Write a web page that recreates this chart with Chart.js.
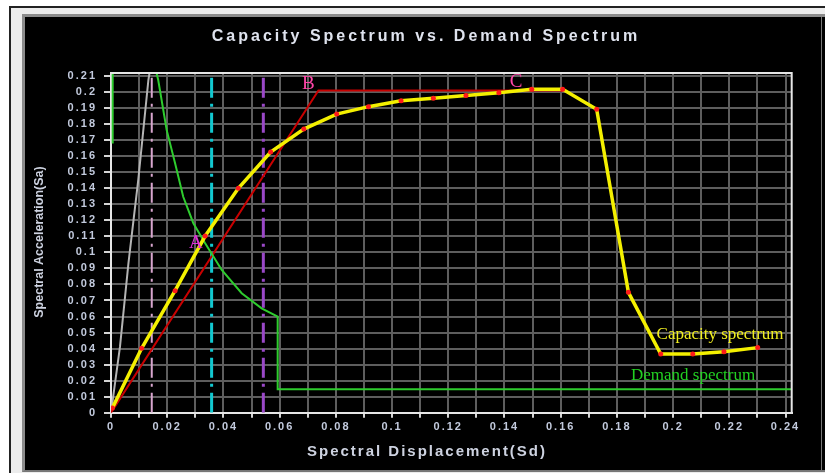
<!DOCTYPE html>
<html>
<head>
<meta charset="utf-8">
<script src="https://cdn.jsdelivr.net/npm/chart.js@4.4.1/dist/chart.umd.min.js"></script>
<style>
body{margin:0;background:#fff;width:825px;height:473px;overflow:hidden;position:relative}
#edge{position:absolute;left:9px;top:6px;width:830px;height:480px;border-left:2px solid #222;border-top:2px solid #222;background:#ececec}
#panel{position:absolute;left:22px;top:14px;width:820px;height:453px;border-left:3px solid #8c8c8c;border-top:3px solid #8c8c8c;border-bottom:2px solid #777;background:#000}
#rline{position:absolute;left:821px;top:17px;width:1px;height:453px;background:#777}
canvas{position:absolute;left:0;top:0}
</style>
</head>
<body>
<div id="edge"></div>
<div id="panel"></div>
<div id="rline"></div>
<canvas id="myChart" width="825" height="473"></canvas>
<script>
// capacity spectrum (yellow, red markers)
const capX = [0.0005, 0.0109, 0.0228, 0.0335, 0.0453, 0.0568, 0.0686, 0.0803, 0.0916, 0.1032, 0.1147, 0.1263, 0.138, 0.1497, 0.1607, 0.1728, 0.1841, 0.1956, 0.207, 0.2181, 0.2301];
const capY = [0.003, 0.0402, 0.0761, 0.1102, 0.14, 0.1626, 0.1769, 0.1863, 0.1909, 0.1946, 0.1961, 0.1978, 0.1996, 0.2017, 0.2017, 0.1893, 0.0751, 0.0366, 0.0366, 0.038, 0.0406];
// bilinear idealisation (red)
const bilinX = [0, 0.0738, 0.1607];
const bilinY = [0, 0.201, 0.201];
// elastic line (grey)
const elasticX = [0, 0.0032, 0.0062, 0.0097, 0.0133, 0.0137];
const elasticY = [0, 0.0412, 0.0932, 0.1452, 0.2075, 0.2119];
// demand spectrum (green)
const demandX = [0.0162, 0.0168, 0.0198, 0.0228, 0.0257, 0.0293, 0.0335, 0.0394, 0.0465, 0.0536, 0.0593, 0.0593, 0.2425];
const demandY = [0.2119, 0.2075, 0.1764, 0.1556, 0.1347, 0.1182, 0.1057, 0.089, 0.0745, 0.0651, 0.0599, 0.0146, 0.0146];
const stubX = [0.0006, 0.0006];
const stubY = [0.168, 0.2119];
// dash-dot guide lines
const guideX = [0.0145, 0.0358, 0.0542];
const guideColors = ['#d9a6cf', '#12c8d0', '#9a48c8'];
const guideWidths = [2, 3, 3];
const guideTop = 0.209;

const xTicks = [0, 0.01, 0.02, 0.03, 0.04, 0.05, 0.06, 0.07, 0.08, 0.09, 0.1, 0.11, 0.12, 0.13, 0.14, 0.15, 0.16, 0.17, 0.18, 0.19, 0.2, 0.21, 0.22, 0.23, 0.24];
const yTicks = [0, 0.01, 0.02, 0.03, 0.04, 0.05, 0.06, 0.07, 0.08, 0.09, 0.1, 0.11, 0.12, 0.13, 0.14, 0.15, 0.16, 0.17, 0.18, 0.19, 0.2, 0.21];

const markNames = ['A', 'B', 'C'];
const markX = [0.0302, 0.0702, 0.1441];
const markY = [0.1059, 0.205, 0.2065];
const curveNames = ['Capacity spectrum', 'Demand spectrum'];
const curveNameX = [0.2167, 0.2071];
const curveNameY = [0.0485, 0.0229];
const curveNameColors = ['#f2f020', '#22d022'];

const pts = (xs, ys) => xs.map((v, i) => ({x: v, y: ys[i]}));
const fmt = v => String(Number(v.toFixed(2)));

const datasets = [
  {data: pts(capX, capY), borderColor: '#f4f000', borderWidth: 3.5, pointRadius: 2.5, pointBackgroundColor: '#ff1a1a', pointBorderWidth: 0, order: 0},
  {data: pts(bilinX, bilinY), borderColor: '#c80000', borderWidth: 2, pointRadius: 0, order: 2},
  {data: pts(elasticX, elasticY), borderColor: '#b4b4b4', borderWidth: 2, pointRadius: 0, order: 3},
  {data: pts(demandX, demandY), borderColor: '#2ecc2e', borderWidth: 2, pointRadius: 0, order: 1},
  {data: pts(stubX, stubY), borderColor: '#2ecc2e', borderWidth: 2, pointRadius: 0, order: 1},
];
guideX.forEach((gx, i) => {
  datasets.push({data: pts([gx, gx], [0, guideTop]), borderColor: guideColors[i], borderWidth: guideWidths[i],
    borderDash: [20, 6, 3, 6], pointRadius: 0, order: 4});
});

const plotFrame = {
  id: 'plotFrame',
  beforeDraw(chart) { chart.ctx.letterSpacing = '2px'; },
  afterDatasetsDraw(chart) {
    const {ctx, chartArea: a} = chart;
    ctx.save();
    ctx.strokeStyle = '#e6e6e6';
    ctx.lineWidth = 2;
    ctx.beginPath();
    ctx.moveTo(a.left, a.top);
    ctx.lineTo(a.right, a.top);
    ctx.lineTo(a.right, a.bottom);
    ctx.stroke();
    ctx.restore();
  }
};

const texts = {
  id: 'texts',
  afterDraw(chart) {
    const {ctx, scales: {x, y}} = chart;
    ctx.save();
    ctx.textAlign = 'center';
    ctx.textBaseline = 'middle';
    ctx.fillStyle = '#dfe3ee';
    ctx.letterSpacing = '3px';
    ctx.font = 'bold 16px "Liberation Sans"';
    ctx.fillText('Capacity Spectrum vs. Demand Spectrum', 426, 37);
    ctx.fillStyle = '#cdd2e0';
    ctx.letterSpacing = '2px';
    ctx.font = 'bold 15px "Liberation Sans"';
    ctx.fillText('Spectral Displacement(Sd)', 427, 452);
    ctx.letterSpacing = '0px';
    ctx.font = 'bold 12.5px "Liberation Sans"';
    ctx.save();
    ctx.translate(40, 242);
    ctx.rotate(-Math.PI / 2);
    ctx.fillText('Spectral Acceleration(Sa)', 0, 0);
    ctx.restore();
    ctx.font = '19px "Liberation Serif"';
    markNames.forEach((t, i) => {
      ctx.fillStyle = i === 0 ? '#e030d8' : '#ff45a8';
      ctx.fillText(t, x.getPixelForValue(markX[i]), y.getPixelForValue(markY[i]));
    });
    ctx.font = '17px "Liberation Serif"';
    curveNames.forEach((t, i) => {
      ctx.fillStyle = curveNameColors[i];
      ctx.fillText(t, x.getPixelForValue(curveNameX[i]), y.getPixelForValue(curveNameY[i]));
    });
    ctx.restore();
  }
};

const tickFont = {family: 'Liberation Sans', weight: 'bold', size: 11};

const config = {
  type: 'scatter',
  data: {datasets: datasets},
  options: {
    responsive: false,
    devicePixelRatio: 1,
    animation: false,
    showLine: true,
    layout: {padding: {top: 73, right: 33.3, bottom: 0, left: 0}},
    elements: {line: {tension: 0, fill: false}},
    plugins: {legend: {display: false}, tooltip: {enabled: false}},
    scales: {
      x: {
        type: 'linear', min: 0, max: 0.2422,
        afterBuildTicks(s) { s.ticks = xTicks.map(v => ({value: v})); },
        afterFit(s) { s.height = 60.3; },
        ticks: {autoSkip: false, maxRotation: 0, padding: 3, color: '#c2cadd', font: tickFont,
          callback: v => (Math.round(v * 100) % 2 === 0 ? fmt(v) : '')},
        grid: {color: '#5e5e5e', lineWidth: 2, tickLength: 5, tickColor: '#d4d4d4', tickWidth: 2},
        border: {color: '#e6e6e6', width: 2}
      },
      y: {
        type: 'linear', min: 0, max: 0.2119,
        afterBuildTicks(s) { s.ticks = yTicks.map(v => ({value: v})); },
        afterFit(s) { s.width = 111; },
        ticks: {autoSkip: false, padding: 7, color: '#c2cadd', font: tickFont, callback: v => fmt(v)},
        grid: {color: '#5e5e5e', lineWidth: 2, tickLength: 7, tickColor: '#d4d4d4', tickWidth: 2},
        border: {color: '#e6e6e6', width: 2}
      }
    }
  },
  plugins: [plotFrame, texts]
};

const myChart = new Chart(document.getElementById('myChart'), config);
</script>
</body>
</html>
